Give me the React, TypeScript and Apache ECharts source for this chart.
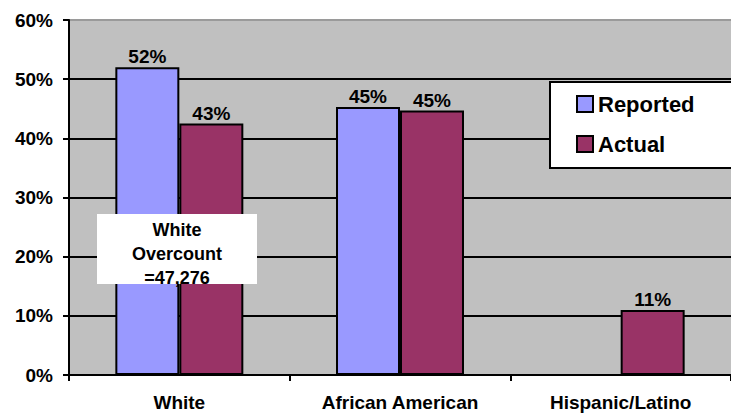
import React, { useEffect, useRef } from "react";
import * as echarts from "echarts";

const categories = ["White", "African American", "Hispanic/Latino"];
const reported = [52, 45.3, null];
const actual = [42.5, 44.7, 11];
const reportedLabels = ["52%", "45%", ""];
const actualLabels = ["43%", "45%", "11%"];
const yTicks = [0, 10, 20, 30, 40, 50, 60];
const noteText = "White\nOvercount\n=47,276";

const FONT = "'Liberation Sans', Arial, sans-serif";

export default function App() {
  const ref = useRef<HTMLDivElement>(null);
  useEffect(() => {
    document.body.style.margin = "0";
    const chart = echarts.init(ref.current!, null, { renderer: "svg" });
    chart.setOption({
      animation: false,
      backgroundColor: "#ffffff",
      grid: {
        left: 69,
        top: 20,
        width: 667,
        height: 355,
        show: true,
        backgroundColor: "#C0C0C0",
        borderWidth: 0,
      },
      legend: {
        orient: "vertical",
        left: 550,
        top: 82,
        z: 10,
        data: ["Reported", "Actual"],
        backgroundColor: "transparent",
        borderWidth: 0,
        padding: [11, 10, 14, 26],
        itemWidth: 16,
        itemHeight: 16,
        itemGap: 18,
        icon: "rect",
        textStyle: {
          fontFamily: FONT,
          fontWeight: "bold",
          fontSize: 22,
          color: "#000",
        },
      },
      xAxis: {
        type: "category",
        data: categories,
        axisLine: { lineStyle: { color: "#000", width: 2 } },
        axisTick: { show: true, length: 6, lineStyle: { color: "#000", width: 2 } },
        axisLabel: {
          fontFamily: FONT,
          fontWeight: "bold",
          fontSize: 19,
          color: "#000",
          margin: 18,
        },
      },
      yAxis: {
        type: "value",
        min: 0,
        max: 60,
        interval: 10,
        axisLine: { show: true, lineStyle: { color: "#000", width: 2 } },
        axisTick: { show: true, length: 6, lineStyle: { color: "#000", width: 2 } },
        axisLabel: {
          fontFamily: FONT,
          fontWeight: "bold",
          fontSize: 19,
          color: "#000",
          margin: 16,
          formatter: (v: number) => (yTicks.includes(v) ? v + "%" : ""),
        },
        splitLine: {
          show: true,
          lineStyle: {
            color: ["#000", "#000", "#000", "#000", "#000", "#000", "#9a9a9a"],
            width: 2,
          },
        },
      },
      series: [
        {
          name: "Reported",
          type: "bar",
          data: reported,
          barGap: "0%",
          barCategoryGap: "42%",
          itemStyle: { color: "#9999FF", borderColor: "#000", borderWidth: 2 },
          label: {
            show: true,
            position: "top",
            distance: 1,
            fontFamily: FONT,
            fontWeight: "bold",
            fontSize: 19,
            color: "#000",
            formatter: (p: any) => reportedLabels[p.dataIndex],
          },
        },
        {
          name: "Actual",
          type: "bar",
          data: actual,
          itemStyle: { color: "#993366", borderColor: "#000", borderWidth: 2 },
          label: {
            show: true,
            position: "top",
            distance: 1,
            fontFamily: FONT,
            fontWeight: "bold",
            fontSize: 19,
            color: "#000",
            formatter: (p: any) => actualLabels[p.dataIndex],
          },
        },
      ],
      graphic: [
        {
          type: "rect",
          z: 5,
          shape: { x: 550, y: 82, width: 200, height: 86 },
          style: { fill: "#ffffff", stroke: "#000", lineWidth: 2 },
        },
        {
          type: "rect",
          z: 100,
          shape: { x: 97, y: 214, width: 160, height: 70 },
          style: { fill: "#ffffff" },
        },
        {
          type: "text",
          x: 177,
          y: 218,
          z: 101,
          style: {
            text: noteText,
            textAlign: "center",
            fontFamily: FONT,
            fontWeight: "bold",
            fontSize: 18,
            lineHeight: 24,
            fill: "#000",
          },
        },
      ],
    });
    return () => chart.dispose();
  }, []);
  return <div ref={ref} style={{ width: 731, height: 415 }} />;
}
